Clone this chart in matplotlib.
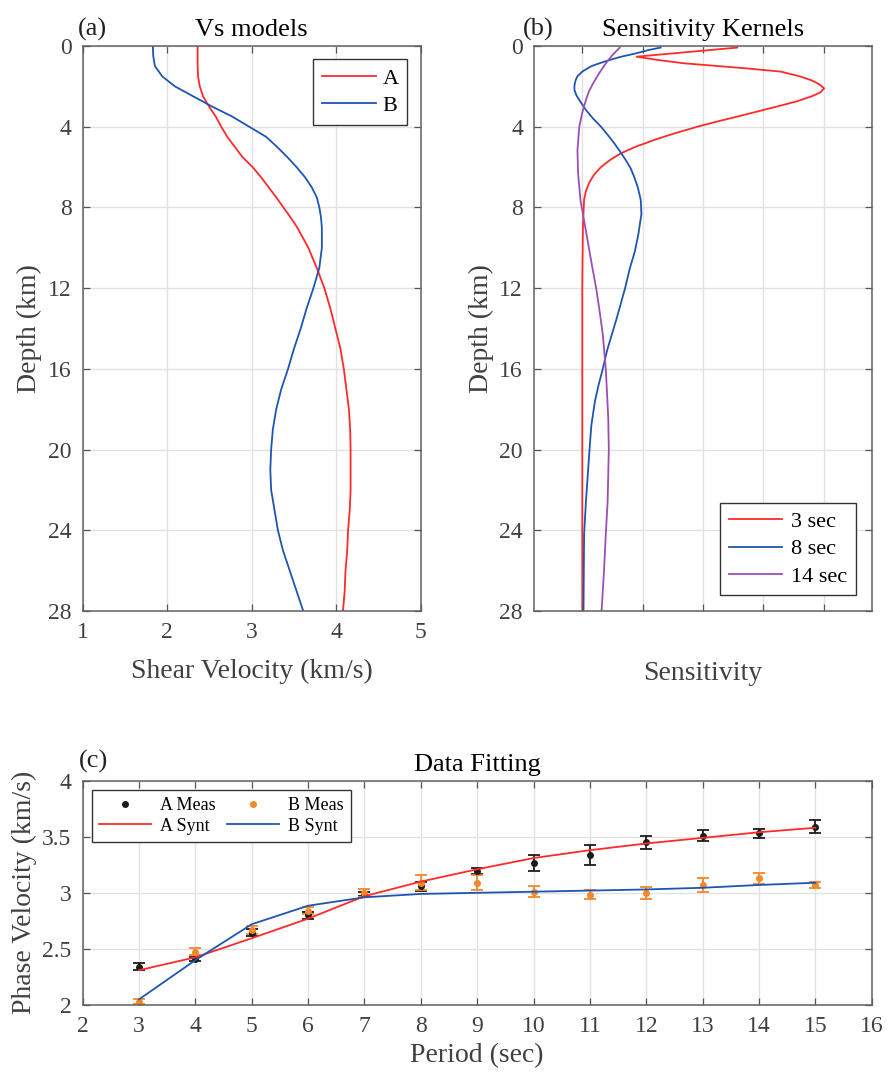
import matplotlib.pyplot as plt
from matplotlib.lines import Line2D

plt.rcParams['font.family'] = ['Liberation Serif', 'DejaVu Serif']

# (a) Vs models
depth_vs = [0, 0.5, 1, 1.5, 2, 2.5, 3, 3.5, 4, 4.5, 5, 5.5, 6, 6.5, 7, 7.5, 8, 8.5, 9, 10, 11,
            12, 13, 14, 15, 16, 17, 18, 19, 20, 21, 22, 23, 24, 25, 26, 27, 28]
vs_a = [2.36, 2.36, 2.36, 2.365, 2.385, 2.425, 2.495, 2.575, 2.64, 2.71, 2.80, 2.89, 3.01,
        3.11, 3.20, 3.29, 3.375, 3.46, 3.54, 3.67, 3.77, 3.86, 3.93, 3.99, 4.05, 4.09, 4.12,
        4.15, 4.165, 4.17, 4.17, 4.17, 4.16, 4.14, 4.13, 4.11, 4.10, 4.08]
vs_b = [1.83, 1.835, 1.855, 1.94, 2.09, 2.31, 2.53, 2.77, 2.97, 3.17, 3.30, 3.42, 3.53, 3.63,
        3.71, 3.77, 3.80, 3.82, 3.83, 3.83, 3.80, 3.73, 3.65, 3.58, 3.50, 3.43, 3.35, 3.29,
        3.25, 3.23, 3.22, 3.23, 3.27, 3.31, 3.37, 3.45, 3.53, 3.61]

# (b) sensitivity kernels
depth_k3 = [0.08, 0.53, 0.69, 0.86, 1.1, 1.27, 1.5, 1.7, 1.9, 2.1, 2.3, 2.5, 2.75, 3.0, 3.25,
            3.5, 3.75, 4.0, 4.33, 4.66, 5.0, 5.32, 5.65, 6.0, 6.4, 6.8, 7.2, 7.6, 9, 12, 28]
kern_3 = [2.57, 0.90, 1.24, 1.69, 2.68, 3.29, 3.60, 3.80, 3.93, 4.01, 3.95, 3.80, 3.55, 3.23,
          2.90, 2.57, 2.23, 1.91, 1.53, 1.19, 0.88, 0.64, 0.46, 0.31, 0.19, 0.11, 0.06, 0.03,
          0.01, 0.0, 0.0]
depth_k8 = [0.08, 0.2, 0.36, 0.55, 0.78, 1.0, 1.27, 1.5, 1.69, 1.95, 2.18, 2.43, 2.68, 2.9,
            3.17, 3.6, 4.0, 4.4, 4.82, 5.2, 5.65, 6.05, 6.48, 7.0, 7.64, 8.33, 9.33, 10.2, 11,
            12, 13.5, 14.3, 15.1, 16, 16.8, 17.6, 18.8, 20, 22.6, 24.2, 28]
kern_8 = [1.30, 1.10, 0.90, 0.62, 0.36, 0.15, 0.0, -0.08, -0.11, -0.13, -0.13, -0.10, -0.05,
          0.0, 0.06, 0.18, 0.31, 0.42, 0.53, 0.62, 0.72, 0.80, 0.86, 0.92, 0.97, 0.98, 0.93,
          0.87, 0.79, 0.71, 0.57, 0.49, 0.41, 0.34, 0.27, 0.21, 0.15, 0.12, 0.06, 0.03, 0.02]
depth_k14 = [0.08, 0.45, 0.86, 1.35, 1.85, 2.25, 2.68, 3.3, 4.0, 5.16, 6.3, 7.64, 8.5, 9.33,
             10.7, 12, 13.2, 14.3, 16, 18.4, 20, 22.6, 24.2, 26, 28]
kern_14 = [0.62, 0.50, 0.39, 0.28, 0.18, 0.11, 0.06, 0.0, -0.05, -0.08, -0.07, -0.03, 0.02,
           0.07, 0.15, 0.23, 0.29, 0.34, 0.39, 0.43, 0.44, 0.42, 0.39, 0.36, 0.32]

# (c) data fitting
period = [3, 4, 5, 6, 7, 8, 9, 10, 11, 12, 13, 14, 15]
a_meas = [2.34, 2.41, 2.645, 2.80, 2.99, 3.06, 3.195, 3.265, 3.34, 3.45, 3.51, 3.53, 3.59]
a_err = [0.03, 0.02, 0.03, 0.03, 0.02, 0.04, 0.03, 0.073, 0.09, 0.06, 0.05, 0.04, 0.055]
b_meas = [2.03, 2.475, 2.67, 2.84, 3.0, 3.09, 3.09, 3.01, 2.985, 3.0, 3.07, 3.13, 3.07]
b_err = [0.02, 0.03, 0.035, 0.03, 0.035, 0.065, 0.065, 0.05, 0.04, 0.055, 0.06, 0.05, 0.03]
a_synt = [2.31, 2.425, 2.595, 2.77, 2.97, 3.10, 3.21, 3.31, 3.38, 3.44, 3.49, 3.54, 3.58]
b_synt = [2.05, 2.40, 2.72, 2.885, 2.96, 2.99, 3.00, 3.01, 3.02, 3.03, 3.045, 3.07, 3.09]

RED = '#FF2A2A'
BLUE = '#1F55B0'
PURPLE = '#9B4FB5'
ORANGE = '#F5872A'
BLACK = '#1C1C1C'
TXT = '#404040'


def matlab_style(ax):
    ax.tick_params(direction='in', top=True, right=True, length=5, width=0.9,
                   colors='#555555', labelcolor=TXT, labelsize=17, pad=8)
    for s in ax.spines.values():
        s.set_color('#606060')
        s.set_linewidth(1.1)
    ax.grid(True, color='#e2e2e2', linewidth=1.0)
    ax.set_axisbelow(True)


def box_legend(lg):
    lg.get_frame().set_linewidth(1.0)
    return lg


fig = plt.figure(figsize=(8.88, 10.79), dpi=100)

# ---- (a)
ax1 = fig.add_axes([0.0931, 0.4337, 0.3807, 0.5237])
ax1.plot(vs_a, depth_vs, color=RED, lw=1.3, label='A')
ax1.plot(vs_b, depth_vs, color=BLUE, lw=1.3, label='B')
ax1.set_xlim(1, 5)
ax1.set_ylim(28, 0)
ax1.set_xticks([1, 2, 3, 4, 5])
ax1.set_yticks(range(0, 29, 4))
matlab_style(ax1)
ax1.set_title('Vs models', fontsize=19, pad=7)
ax1.set_xlabel('Shear Velocity (km/s)', fontsize=20, color=TXT, labelpad=11)
ax1.set_ylabel('Depth (km)', fontsize=20, color=TXT, labelpad=4)
box_legend(ax1.legend(loc='upper right', fontsize=16, fancybox=False, framealpha=1,
                      edgecolor='#333333', handlelength=2.4, handletextpad=0.3,
                      borderaxespad=0.6, labelspacing=0.3))

# ---- (b)
ax2 = fig.add_axes([0.6014, 0.4337, 0.3803, 0.5237])
ax2.plot(kern_3, depth_k3, color=RED, lw=1.3, label='3 sec')
ax2.plot(kern_8, depth_k8, color=BLUE, lw=1.3, label='8 sec')
ax2.plot(kern_14, depth_k14, color=PURPLE, lw=1.3, label='14 sec')
ax2.set_xlim(-0.8, 4.8)
ax2.set_ylim(28, 0)
ax2.set_xticks([0, 1, 2, 3, 4])
ax2.set_xticklabels([])
ax2.set_yticks(range(0, 29, 4))
matlab_style(ax2)
ax2.set_title('Sensitivity Kernels', fontsize=19, pad=7)
ax2.set_xlabel('Sensitivity', fontsize=20, color=TXT, labelpad=28)
ax2.set_ylabel('Depth (km)', fontsize=20, color=TXT, labelpad=4)
box_legend(ax2.legend(loc='lower right', fontsize=16, fancybox=False, framealpha=1,
                      edgecolor='#333333', handlelength=2.4, handletextpad=0.4,
                      borderaxespad=0.7, labelspacing=0.3))

# ---- (c)
ax3 = fig.add_axes([0.0931, 0.0686, 0.8886, 0.2079])
ax3.errorbar(period, a_meas, yerr=a_err, fmt='none', ecolor=BLACK, elinewidth=1.3,
             capsize=4, capthick=1.3)
ax3.errorbar(period, b_meas, yerr=b_err, fmt='none', ecolor=ORANGE, elinewidth=1.3,
             capsize=4, capthick=1.3)
ax3.plot(period, a_meas, 'o', color=BLACK, ms=4)
ax3.plot(period, b_meas, 'o', color=ORANGE, ms=4)
ax3.plot(period, a_synt, color=RED, lw=1.3)
ax3.plot(period, b_synt, color=BLUE, lw=1.3)
ax3.set_xlim(2, 16)
ax3.set_ylim(2, 4)
ax3.set_xticks(range(2, 17))
ax3.set_yticks([2, 2.5, 3, 3.5, 4])
ax3.set_yticklabels(['2', '2.5', '3', '3.5', '4'])
matlab_style(ax3)
ax3.set_title('Data Fitting', fontsize=19, pad=7)
ax3.set_xlabel('Period (sec)', fontsize=20, color=TXT, labelpad=4)
ax3.set_ylabel('Phase Velocity (km/s)', fontsize=20, color=TXT, labelpad=4)
h = [Line2D([], [], marker='o', ls='none', color=BLACK, ms=4),
     Line2D([], [], color=RED, lw=1.3),
     Line2D([], [], marker='o', ls='none', color=ORANGE, ms=4),
     Line2D([], [], color=BLUE, lw=1.3)]
box_legend(ax3.legend(h, ['A Meas', 'A Synt', 'B Meas', 'B Synt'], ncol=2, loc='upper left',
                      fontsize=13, fancybox=False, framealpha=1, edgecolor='#333333',
                      handlelength=2.9, handletextpad=0.5, borderaxespad=0.5,
                      labelspacing=0.2, columnspacing=0.6))

for x, y, s in [(0.088, 0.967, '(a)'), (0.589, 0.967, '(b)'), (0.089, 0.289, '(c)')]:
    fig.text(x, y, s, fontsize=19, color='#222222')

fig.savefig('out.png', dpi=100)
